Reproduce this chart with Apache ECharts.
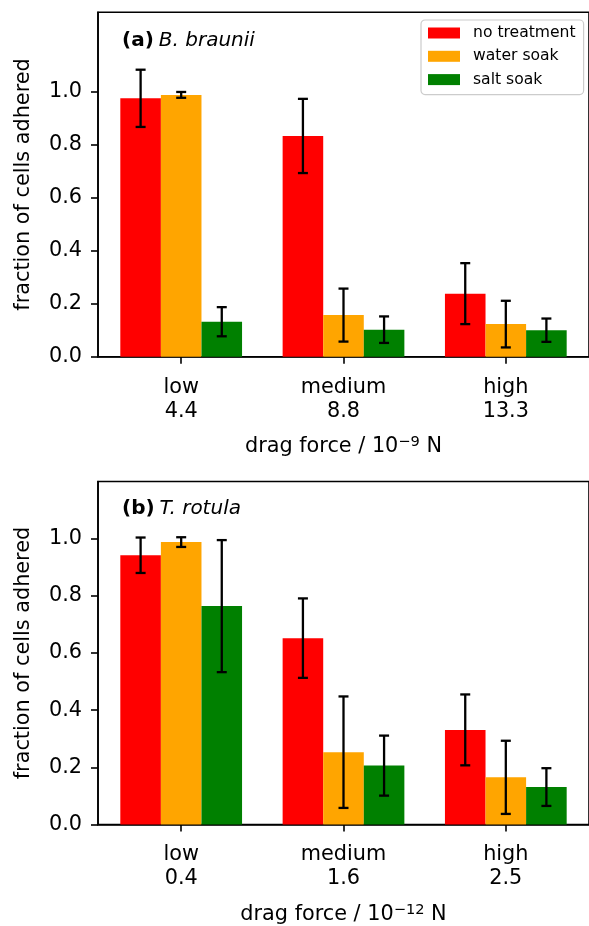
<!DOCTYPE html>
<html>
<head>
<meta charset="utf-8">
<script src="https://cdn.jsdelivr.net/npm/echarts@6/dist/echarts.min.js"></script>
<style>
  html, body { margin: 0; padding: 0; background: #fff; }
  #chart { width: 589px; height: 926px; }
</style>
</head>
<body>
<div id="chart"></div>
<script>
const categories = ['low', 'medium', 'high'];
const forcesA = ['4.4', '8.8', '13.3'];
const forcesB = ['0.4', '1.6', '2.5'];
const seriesNames = ['no treatment', 'water soak', 'salt soak'];
const yTicks = [0, 0.2, 0.4, 0.6, 0.8, 1.0];

// panel (a) B. braunii
const noTreatA = [0.975, 0.833, 0.238];
const noTreatErrA = [0.108, 0.140, 0.115];
const waterA = [0.988, 0.157, 0.123];
const waterErrA = [0.011, 0.100, 0.088];
const saltA = [0.132, 0.102, 0.100];
const saltErrA = [0.055, 0.050, 0.044];

// panel (b) T. rotula
const noTreatB = [0.942, 0.652, 0.331];
const noTreatErrB = [0.062, 0.139, 0.124];
const waterB = [0.988, 0.253, 0.165];
const waterErrB = [0.017, 0.195, 0.128];
const saltB = [0.764, 0.206, 0.131];
const saltErrB = [0.231, 0.105, 0.066];

const colors = ['#ff0000', '#ffa500', '#008000'];
const offsets = [-0.25, 0, 0.25];
const barW = 0.25;
const FONT = 'DejaVu Sans';
const FS = 20.8;

const makeBars = (name, vals, errs, k, idx) => ({
  name: name,
  type: 'custom',
  xAxisIndex: idx,
  yAxisIndex: idx,
  itemStyle: { color: colors[k] },
  encode: { x: 0, y: 1 },
  data: vals.map((v, i) => [i, v, errs[i]]),
  renderItem: (params, api) => {
    const x = api.value(0) + offsets[k];
    const y = api.value(1);
    const e = api.value(2);
    const p0 = api.coord([x - barW / 2, y]);
    const p1 = api.coord([x + barW / 2, 0]);
    const top = api.coord([x, y + e]);
    const bot = api.coord([x, y - e]);
    const cap = 5;
    const ls = { stroke: '#000', lineWidth: 2.3 };
    return {
      type: 'group',
      children: [
        { type: 'rect', shape: { x: p0[0], y: p0[1], width: p1[0] - p0[0], height: p1[1] - p0[1] },
          style: { fill: colors[k] } },
        { type: 'line', shape: { x1: top[0], y1: top[1], x2: bot[0], y2: bot[1] }, style: ls },
        { type: 'line', shape: { x1: top[0] - cap, y1: top[1], x2: top[0] + cap, y2: top[1] }, style: ls },
        { type: 'line', shape: { x1: bot[0] - cap, y1: bot[1], x2: bot[0] + cap, y2: bot[1] }, style: ls }
      ]
    };
  }
});

const makeXAxis = (idx, forces, exp) => ({
  type: 'value',
  gridIndex: idx,
  min: -0.5125,
  max: 2.5125,
  axisLine: { show: true, onZero: false, lineStyle: { color: '#000', width: 1.6 } },
  axisTick: { show: true, length: 7, lineStyle: { color: '#000', width: 1.6 }, customValues: [0, 1, 2] },
  splitLine: { show: false },
  axisLabel: {
    customValues: [0, 1, 2],
    formatter: v => categories[Math.round(v)] + '\n' + forces[Math.round(v)],
    fontFamily: FONT, fontSize: FS, color: '#000', lineHeight: 24, margin: 18.5
  },
  name: '{t|drag force / 10}{s|\u2212' + exp + '}{t| N}',
  nameLocation: 'middle',
  nameGap: 78,
  nameTextStyle: {
    fontFamily: FONT, fontSize: FS, color: '#000',
    rich: {
      t: { fontFamily: FONT, fontSize: FS, color: '#000' },
      s: { fontFamily: FONT, fontSize: 14.6, color: '#000', verticalAlign: 'bottom', padding: [0, 0, 9, 0] }
    }
  }
});

const makeYAxis = (idx, max) => ({
  type: 'value',
  gridIndex: idx,
  min: 0,
  max: max,
  axisLine: { show: true, onZero: false, lineStyle: { color: '#000', width: 1.6 } },
  axisTick: { show: true, length: 7, lineStyle: { color: '#000', width: 1.6 }, customValues: yTicks },
  splitLine: { show: false },
  axisLabel: {
    customValues: yTicks,
    formatter: v => v.toFixed(1),
    fontFamily: FONT, fontSize: FS, color: '#000', margin: 16
  },
  name: 'fraction of cells adhered',
  nameLocation: 'middle',
  nameRotate: 90,
  nameGap: 64,
  nameTextStyle: { fontFamily: FONT, fontSize: FS, color: '#000' }
});

const titleRich = {
  b: { fontFamily: FONT, fontSize: 20, fontWeight: 'bold', color: '#000' },
  i: { fontFamily: FONT, fontSize: 20, fontWeight: 'normal', fontStyle: 'italic', color: '#000' }
};

const getOption = () => ({
  backgroundColor: '#fff',
  animation: false,
  title: [
    { text: '{b|(a)} {i|B. braunii}', left: 122, top: 31, padding: 0,
      textStyle: { fontWeight: 'normal', rich: titleRich } },
    { text: '{b|(b)} {i|T. rotula}', left: 122, top: 499, padding: 0,
      textStyle: { fontWeight: 'normal', rich: titleRich } }
  ],
  legend: {
    data: seriesNames,
    orient: 'vertical',
    left: 421,
    top: 20,
    icon: 'rect',
    itemWidth: 32,
    itemHeight: 11,
    itemGap: 7.3,
    padding: [5, 8, 7, 7],
    backgroundColor: '#fff',
    borderColor: '#cccccc',
    borderWidth: 1.2,
    borderRadius: 4,
    selectedMode: false,
    textStyle: { fontFamily: FONT, fontSize: 15.6, color: '#000', lineHeight: 16, padding: [0, 0, 0, 8] }
  },
  grid: [
    { left: 98, top: 12.2, width: 494.6, height: 344.5, show: true, borderColor: '#000', borderWidth: 1.6 },
    { left: 98, top: 481.5, width: 494.6, height: 344.5, show: true, borderColor: '#000', borderWidth: 1.6 }
  ],
  xAxis: [makeXAxis(0, forcesA, '9'), makeXAxis(1, forcesB, '12')],
  yAxis: [makeYAxis(0, 1.3), makeYAxis(1, 1.2)],
  series: [
    makeBars(seriesNames[0], noTreatA, noTreatErrA, 0, 0),
    makeBars(seriesNames[1], waterA, waterErrA, 1, 0),
    makeBars(seriesNames[2], saltA, saltErrA, 2, 0),
    makeBars(seriesNames[0], noTreatB, noTreatErrB, 0, 1),
    makeBars(seriesNames[1], waterB, waterErrB, 1, 1),
    makeBars(seriesNames[2], saltB, saltErrB, 2, 1)
  ]
});

const chart = echarts.init(document.querySelector('#chart'));
chart.setOption(getOption());
</script>
</body>
</html>
